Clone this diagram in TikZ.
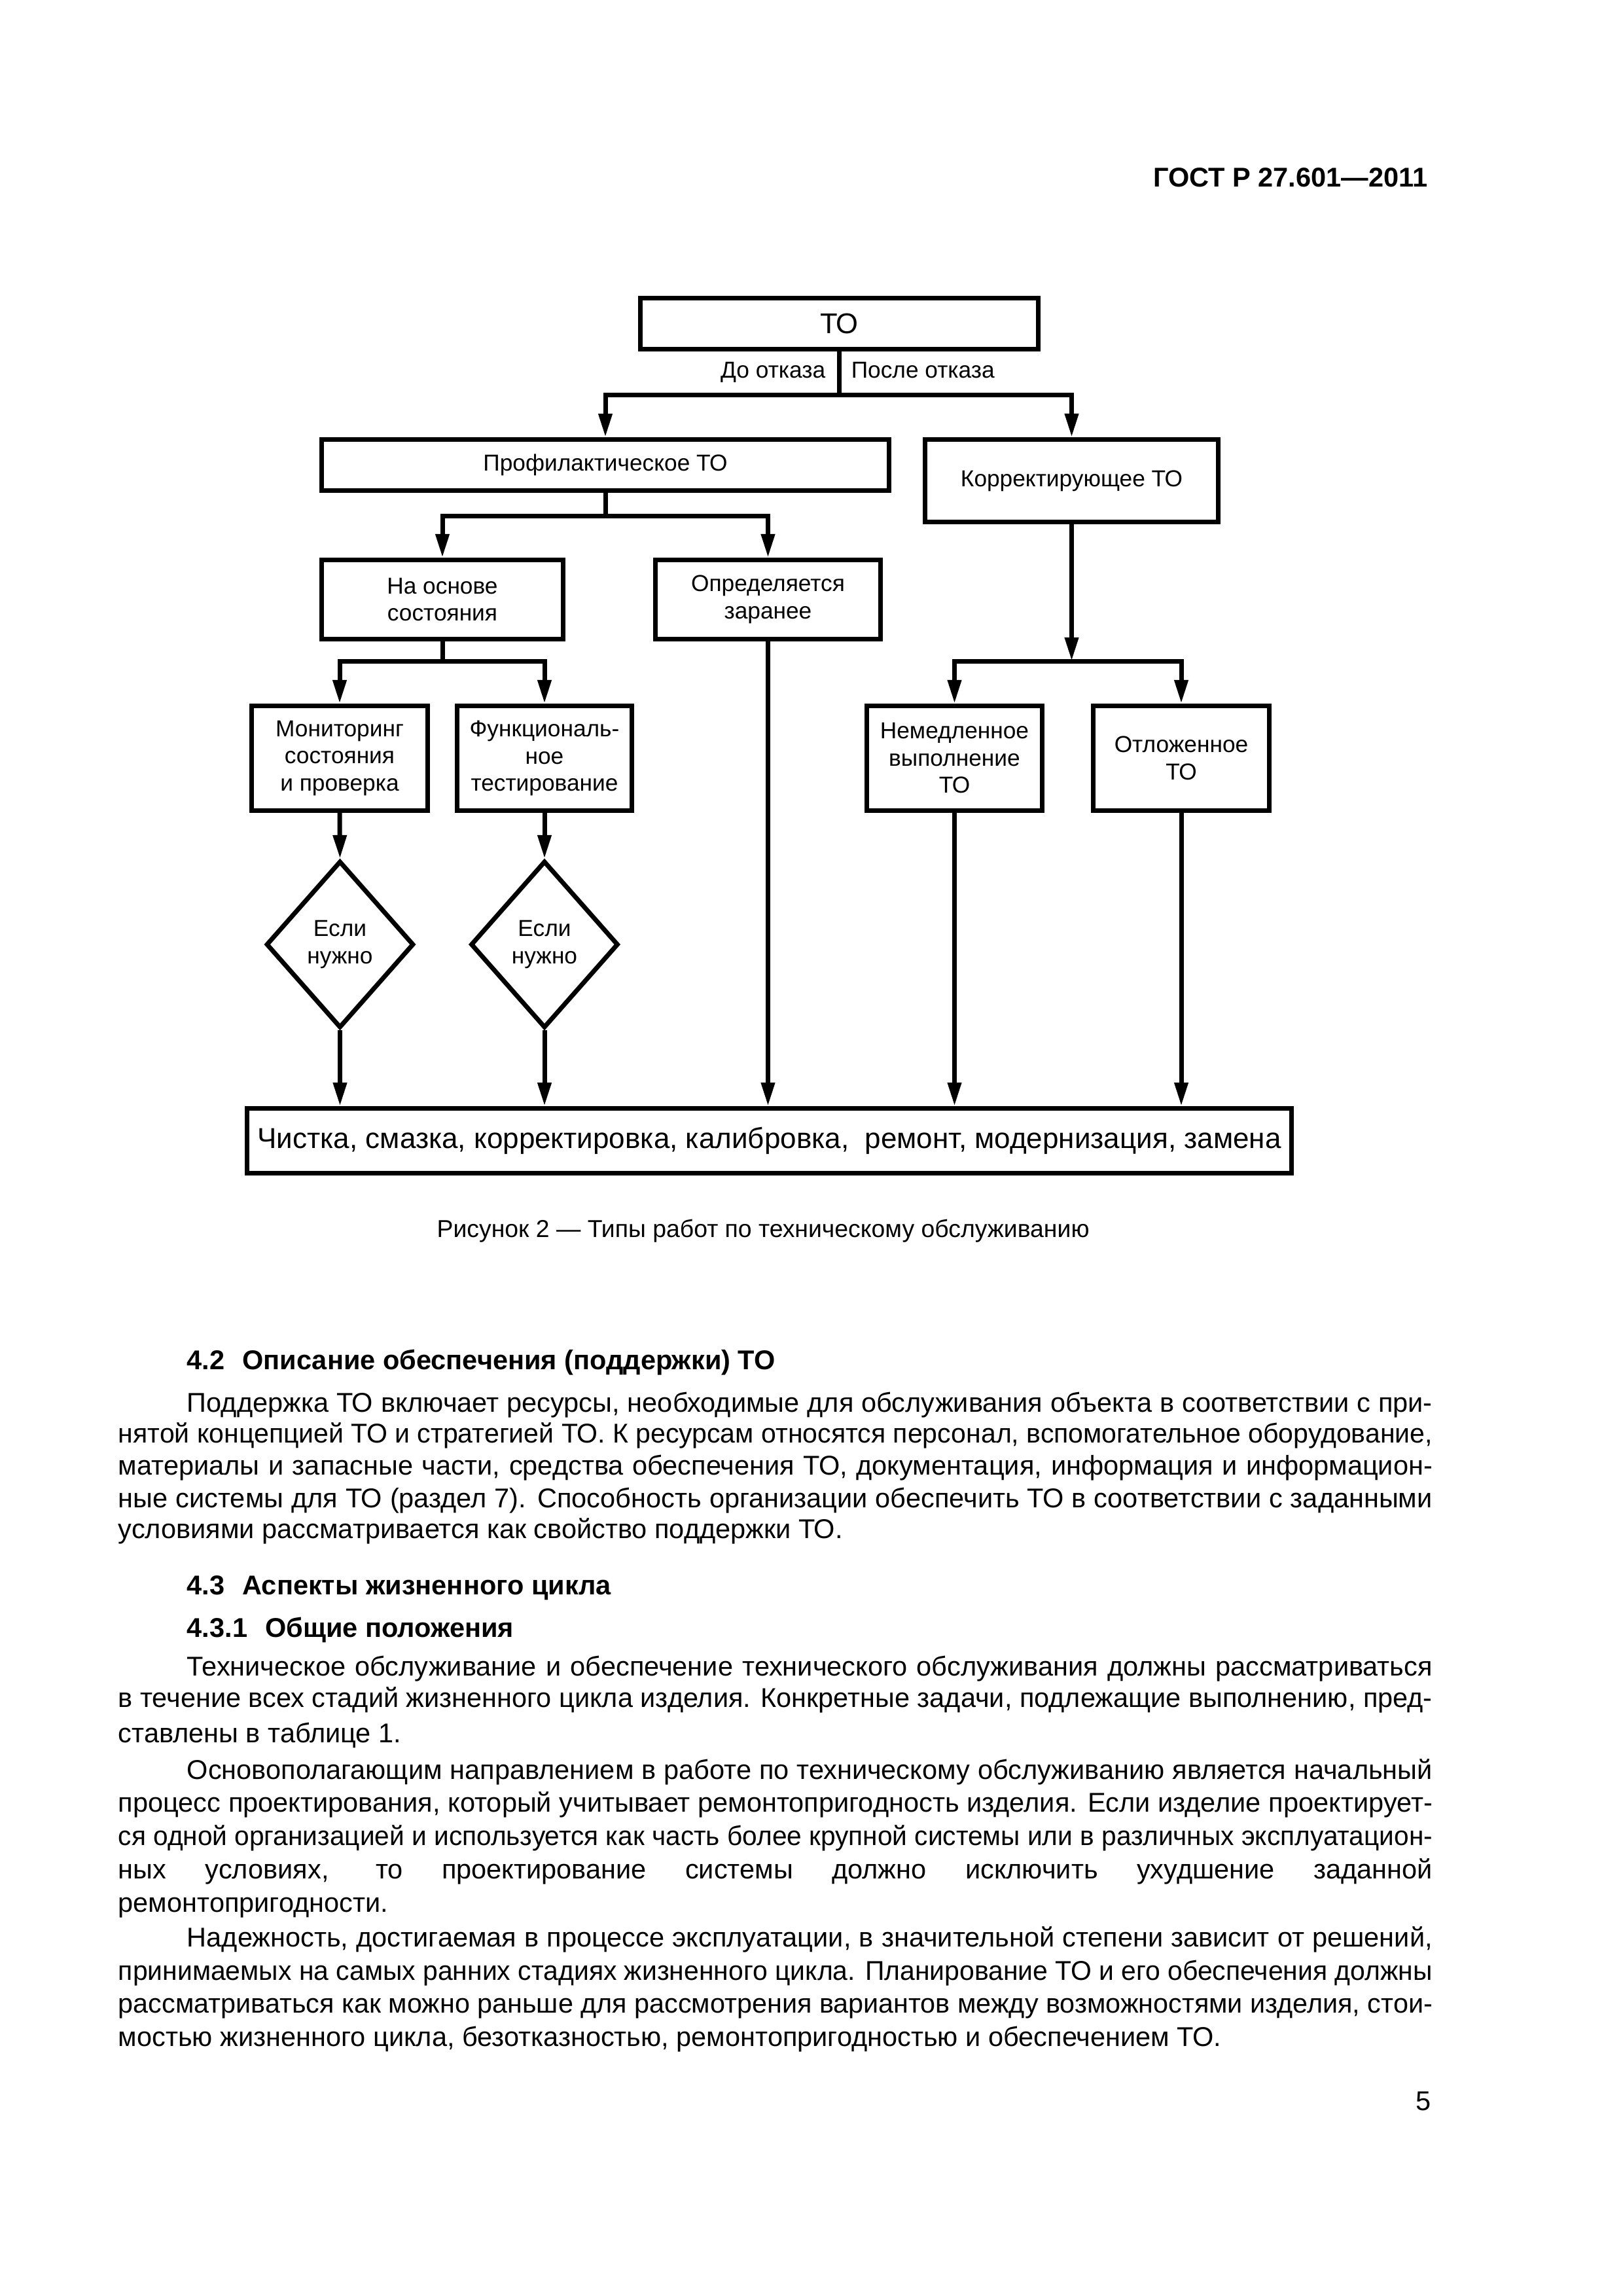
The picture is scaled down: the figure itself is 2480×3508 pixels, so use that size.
\documentclass[tikz,border=0pt]{standalone}
\usepackage{fontspec}
\setmainfont{Liberation Sans}
\usetikzlibrary{arrows.meta,shapes.geometric}
\newdimen\px \px=0.0846774mm
\newsavebox\jlbox
\newdimen\fullw \fullw=2008\px
\newdimen\indw \indw=1903\px
\newcommand\fs[2]{\fontsize{#1}{#2}\selectfont}
\newcommand\jline[2]{\sbox\jlbox{#2}\ifdim\wd\jlbox>#1\relax\resizebox{#1}{\ht\jlbox}{#2}\else\makebox[#1][s]{#2}\fi}
\tikzset{
  lw/.style={line width=0.593mm},
  box/.style={draw, lw, inner sep=0pt, align=center, font=\fs{8.5}{10}},
  dia/.style={draw, lw, diamond, inner sep=0pt, align=center, font=\fs{8.5}{10},
              minimum width=19.1mm, minimum height=21.6mm},
  conn/.style={lw},
  arr/.style={lw, -{Triangle[length=3.05mm,width=1.69mm]}},
  body/.style={anchor=base west, inner sep=0pt, font=\fs{10}{12}},
  head/.style={anchor=base west, inner sep=0pt, font=\bfseries\fs{10}{12}},
}
\begin{document}
\begin{tikzpicture}[x=\px, y=-\px]
\fill[white] (0,0) rectangle (2480,3508);
\useasboundingbox (0,0) rectangle (2480,3508);

% header
\node[anchor=base east, inner sep=0pt, font=\bfseries\fs{10}{12}] (hdr) at (2182,285) {ГОСТ Р 27.601—2011};

% diagram boxes
\node[box, minimum width=51.48mm, minimum height=6.6mm, font=\fs{10.5}{12}] (to) at (1282.5,494.5) {ТО};
\node[box, minimum width=73.42mm, minimum height=6.6mm] (prof) at (925,710.5) {Профилактическое ТО};
\node[box, minimum width=37.94mm, minimum height=10.67mm] (korr) at (1637.5,734.5) {Корректирующее ТО};
\node[box, minimum width=31.25mm, minimum height=10.25mm] (osn) at (676,916) {На основе\\состояния};
\node[box, minimum width=29.13mm, minimum height=10.25mm] (opr) at (1173.5,916) {Определяется\\заранее};
\node[box, minimum width=22.78mm, minimum height=13.55mm] (mon) at (519,1158.5) {Мониторинг\\состояния\\и проверка};
\node[box, minimum width=22.61mm, minimum height=13.55mm] (fun) at (832,1158.5) {Функциональ-\\ное\\тестирование};
\node[box, minimum width=22.69mm, minimum height=13.55mm] (nem) at (1458.5,1158.5) {Немедленное\\выполнение\\ТО};
\node[box, minimum width=22.78mm, minimum height=13.55mm] (otl) at (1805,1158.5) {Отложенное\\ТО};
\node[dia] (d1) at (519.5,1443) {Если\\нужно};
\node[dia] (d2) at (832,1443) {Если\\нужно};
\node[box, minimum width=135.15mm, minimum height=8.38mm, font=\fs{10.6}{12}] (fin) at (1175.5,1743)
  {Чистка, смазка, корректировка, калибровка,\ \ ремонт, модернизация, замена};

% labels
\node[anchor=base east, inner sep=0pt, font=\fs{8.5}{10}] (lbefore) at (1262,577) {До отказа};
\node[anchor=base west, inner sep=0pt, font=\fs{8.5}{10}] (lafter) at (1300,577) {После отказа};

% connectors
\coordinate (j1) at (1282.5,603);
\coordinate (j2) at (925,788);
\coordinate (j3) at (676,1010);
\coordinate (j4) at (1637.5,1010);
\draw[conn] (to.south) -- (j1);
\draw[arr] (j1) -| (prof.north);
\draw[arr] (j1) -| (korr.north);
\draw[conn] (prof.south) -- (j2);
\draw[arr] (j2) -| (osn.north);
\draw[arr] (j2) -| (opr.north);
\draw[conn] (osn.south) -- (j3);
\draw[arr] (j3) -| (mon.north);
\draw[arr] (j3) -| (fun.north);
\draw[arr] (korr.south) -- (j4);
\draw[arr] (j4) -| (nem.north);
\draw[arr] (j4) -| (otl.north);
\draw[arr] (mon.south) -- (d1.north);
\draw[arr] (fun.south) -- (d2.north);
\draw[arr] (d1.south) -- (d1.south |- fin.north);
\draw[arr] (d2.south) -- (d2.south |- fin.north);
\draw[arr] (opr.south) -- (opr.south |- fin.north);
\draw[arr] (nem.south) -- (nem.south |- fin.north);
\draw[arr] (otl.south) -- (otl.south |- fin.north);

% caption
\node[anchor=base, inner sep=0pt, font=\fs{9}{10}] (cap) at (1166,1890) {Рисунок 2 — Типы работ по техническому обслуживанию};

% body text
\node[head] (h42) at (285,2092) {4.2\hspace{6.5pt}Описание обеспечения (поддержки) ТО};
\node[body] (p1a) at (285,2157) {\jline{\indw}{Поддержка ТО включает ресурсы, необходимые для обслуживания объекта в соответствии с при-}};
\node[body] (p1b) at (180,2204) {\jline{\fullw}{нятой концепцией ТО и стратегией ТО. К ресурсам относятся персонал, вспомогательное оборудование,}};
\node[body] (p1c) at (180,2253) {\jline{\fullw}{материалы и запасные части, средства обеспечения ТО, документация, информация и информацион-}};
\node[body] (p1d) at (180,2303) {\jline{\fullw}{ные системы для ТО (раздел 7). Способность организации обеспечить ТО в соответствии с заданными}};
\node[body] (p1e) at (180,2350) {условиями рассматривается как свойство поддержки ТО.};

\node[head] (h43) at (285,2436) {4.3\hspace{6.5pt}Аспекты жизненного цикла};
\node[head] (h431) at (285,2501) {4.3.1\hspace{6.5pt}Общие положения};

\node[body] (p2a) at (285,2560) {\jline{\indw}{Техническое обслуживание и обеспечение технического обслуживания должны рассматриваться}};
\node[body] (p2b) at (180,2608) {\jline{\fullw}{в течение всех стадий жизненного цикла изделия. Конкретные задачи, подлежащие выполнению, пред-}};
\node[body] (p2c) at (180,2662) {ставлены в таблице 1.};

\node[body] (p3a) at (285,2718) {\jline{\indw}{Основополагающим направлением в работе по техническому обслуживанию является начальный}};
\node[body] (p3b) at (180,2768) {\jline{\fullw}{процесс проектирования, который учитывает ремонтопригодность изделия. Если изделие проектирует-}};
\node[body] (p3c) at (180,2819) {\jline{\fullw}{ся одной организацией и используется как часть более крупной системы или в различных эксплуатацион-}};
\node[body] (p3d) at (180,2870) {\jline{\fullw}{ных условиях, то проектирование системы должно исключить ухудшение заданной}};
\node[body] (p3e) at (180,2921) {ремонтопригодности.};

\node[body] (p4a) at (285,2974) {\jline{\indw}{Надежность, достигаемая в процессе эксплуатации, в значительной степени зависит от решений,}};
\node[body] (p4b) at (180,3025) {\jline{\fullw}{принимаемых на самых ранних стадиях жизненного цикла. Планирование ТО и его обеспечения должны}};
\node[body] (p4c) at (180,3075) {\jline{\fullw}{рассматриваться как можно раньше для рассмотрения вариантов между возможностями изделия, стои-}};
\node[body] (p4d) at (180,3126) {мостью жизненного цикла, безотказностью, ремонтопригодностью и обеспечением ТО.};

\node[anchor=base east, inner sep=0pt, font=\fs{10}{12}] (pg) at (2187,3224) {5};
\end{tikzpicture}
\end{document}
